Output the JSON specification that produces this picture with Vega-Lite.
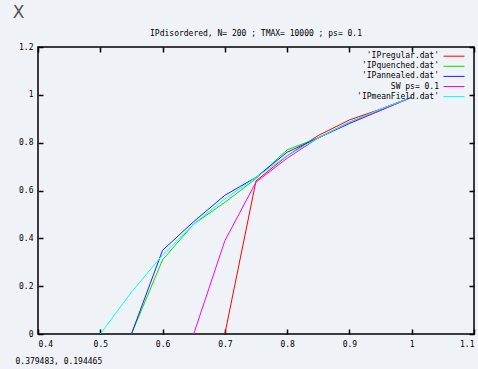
{
"$schema": "https://vega.github.io/schema/vega-lite/v6.json",
"width": 436, "height": 287,
"autosize": {"type": "none"},
"padding": {"left": 38, "top": 47, "right": 4, "bottom": 35},
"background": "#eff2f7",
"title": {"text": "IPdisordered, N= 200 ; TMAX= 10000 ; ps= 0.1", "font": "DejaVu Sans Mono", "fontSize": 8, "fontWeight": "normal", "color": "#000", "offset": 10, "dy": 45, "anchor": "middle"},
"config": {
  "view": {"stroke": "#000", "strokeWidth": 1.5},
  "axis": {"domain": false, "grid": false, "tickColor": "#000", "tickWidth": 1.5, "tickSize": -5, "labelFont": "DejaVu Sans Mono", "labelFontSize": 8, "labelColor": "#000", "format": "~g"},
  "legend": {"labelFont": "DejaVu Sans Mono", "labelFontSize": 8, "labelColor": "#000"}
},
"data": {"values": [
{"series": "'IPregular.dat'", "x": 0.7, "y": 0},
{"series": "'IPregular.dat'", "x": 0.75, "y": 0.64},
{"series": "'IPregular.dat'", "x": 0.8, "y": 0.745},
{"series": "'IPregular.dat'", "x": 0.85, "y": 0.83},
{"series": "'IPregular.dat'", "x": 0.9, "y": 0.895},
{"series": "'IPregular.dat'", "x": 0.95, "y": 0.94},
{"series": "'IPregular.dat'", "x": 1.0, "y": 0.99},
{"series": "'IPquenched.dat'", "x": 0.55, "y": 0},
{"series": "'IPquenched.dat'", "x": 0.6, "y": 0.31},
{"series": "'IPquenched.dat'", "x": 0.65, "y": 0.46},
{"series": "'IPquenched.dat'", "x": 0.7, "y": 0.55},
{"series": "'IPquenched.dat'", "x": 0.75, "y": 0.65},
{"series": "'IPquenched.dat'", "x": 0.8, "y": 0.77},
{"series": "'IPquenched.dat'", "x": 0.85, "y": 0.82},
{"series": "'IPquenched.dat'", "x": 0.9, "y": 0.885},
{"series": "'IPquenched.dat'", "x": 0.95, "y": 0.94},
{"series": "'IPquenched.dat'", "x": 1.0, "y": 0.99},
{"series": "'IPannealed.dat'", "x": 0.55, "y": 0},
{"series": "'IPannealed.dat'", "x": 0.6, "y": 0.35},
{"series": "'IPannealed.dat'", "x": 0.65, "y": 0.47},
{"series": "'IPannealed.dat'", "x": 0.7, "y": 0.58},
{"series": "'IPannealed.dat'", "x": 0.75, "y": 0.655},
{"series": "'IPannealed.dat'", "x": 0.8, "y": 0.76},
{"series": "'IPannealed.dat'", "x": 0.85, "y": 0.82},
{"series": "'IPannealed.dat'", "x": 0.9, "y": 0.88},
{"series": "'IPannealed.dat'", "x": 0.95, "y": 0.935},
{"series": "'IPannealed.dat'", "x": 1.0, "y": 0.99},
{"series": "SW ps= 0.1", "x": 0.65, "y": 0},
{"series": "SW ps= 0.1", "x": 0.7, "y": 0.39},
{"series": "SW ps= 0.1", "x": 0.75, "y": 0.635},
{"series": "SW ps= 0.1", "x": 0.8, "y": 0.735},
{"series": "SW ps= 0.1", "x": 0.85, "y": 0.82},
{"series": "SW ps= 0.1", "x": 0.9, "y": 0.885},
{"series": "SW ps= 0.1", "x": 0.95, "y": 0.935},
{"series": "SW ps= 0.1", "x": 1.0, "y": 0.99},
{"series": "'IPmeanField.dat'", "x": 0.5, "y": 0},
{"series": "'IPmeanField.dat'", "x": 0.55, "y": 0.175},
{"series": "'IPmeanField.dat'", "x": 0.6, "y": 0.33},
{"series": "'IPmeanField.dat'", "x": 0.65, "y": 0.46},
{"series": "'IPmeanField.dat'", "x": 0.7, "y": 0.565},
{"series": "'IPmeanField.dat'", "x": 0.75, "y": 0.655},
{"series": "'IPmeanField.dat'", "x": 0.8, "y": 0.745},
{"series": "'IPmeanField.dat'", "x": 0.85, "y": 0.82},
{"series": "'IPmeanField.dat'", "x": 0.9, "y": 0.885},
{"series": "'IPmeanField.dat'", "x": 0.95, "y": 0.94},
{"series": "'IPmeanField.dat'", "x": 1.0, "y": 0.99}
]},
"layer": [
  {
    "mark": {"type": "line", "strokeOpacity": 0},
    "encoding": {
      "x": {"field": "x", "type": "quantitative", "scale": {"domain": [0.4, 1.1], "nice": false, "zero": false}, "axis": {"orient": "top", "labels": false, "title": null, "values": [0.4, 0.5, 0.6, 0.7, 0.8, 0.9, 1.0, 1.1]}},
      "y": {"field": "y", "type": "quantitative", "scale": {"domain": [0, 1.2], "nice": false}, "axis": {"orient": "right", "labels": false, "title": null, "values": [0, 0.2, 0.4, 0.6, 0.8, 1.0, 1.2]}},
      "detail": {"field": "series"}
    }
  },
  {
    "mark": {"type": "line", "strokeWidth": 1, "clip": true},
    "encoding": {
      "x": {"field": "x", "type": "quantitative", "scale": {"domain": [0.4, 1.1], "nice": false, "zero": false}, "axis": {"orient": "bottom", "values": [0.4, 0.5, 0.6, 0.7, 0.8, 0.9, 1.0, 1.1], "labelPadding": 11, "title": "0.379483,  0.194465", "titleFont": "DejaVu Sans Mono", "titleFontSize": 8, "titleFontWeight": "normal", "titleColor": "#000", "titleAlign": "left", "titleX": -23, "titleY": 29, "titleBaseline": "alphabetic"}},
      "y": {"field": "y", "type": "quantitative", "scale": {"domain": [0, 1.2], "nice": false}, "axis": {"orient": "left", "values": [0, 0.2, 0.4, 0.6, 0.8, 1.0, 1.2], "labelPadding": 10, "title": "X", "titleFont": "DejaVu Sans", "titleFontSize": 17, "titleFontWeight": "normal", "titleColor": "#555", "titleAngle": 0, "titleAlign": "center", "titleBaseline": "middle", "titleX": -20, "titleY": -35}},
      "color": {"field": "series", "type": "nominal", "scale": {"domain": ["'IPregular.dat'", "'IPquenched.dat'", "'IPannealed.dat'", "SW ps= 0.1", "'IPmeanField.dat'"], "range": ["#ff0000", "#00e000", "#2020ff", "#ff00ff", "#00ffff"]},
        "legend": {"title": null, "orient": "none", "legendX": 411.5, "legendY": 4.7, "symbolType": "M-2.625,0H2.625", "symbolSize": 64, "symbolStrokeWidth": 1.5, "symbolFillColor": "transparent", "labelAlign": "right", "labelOffset": -19.5, "rowPadding": 1.1, "padding": 0}},
      "strokeWidth": {"field": "series", "type": "nominal", "scale": {"domain": ["'IPregular.dat'", "'IPquenched.dat'", "'IPannealed.dat'", "SW ps= 0.1", "'IPmeanField.dat'"], "range": [1, 1, 1.6, 1, 1]}, "legend": null}
    }
  }
],
"resolve": {"axis": {"x": "independent", "y": "independent"}}
}
